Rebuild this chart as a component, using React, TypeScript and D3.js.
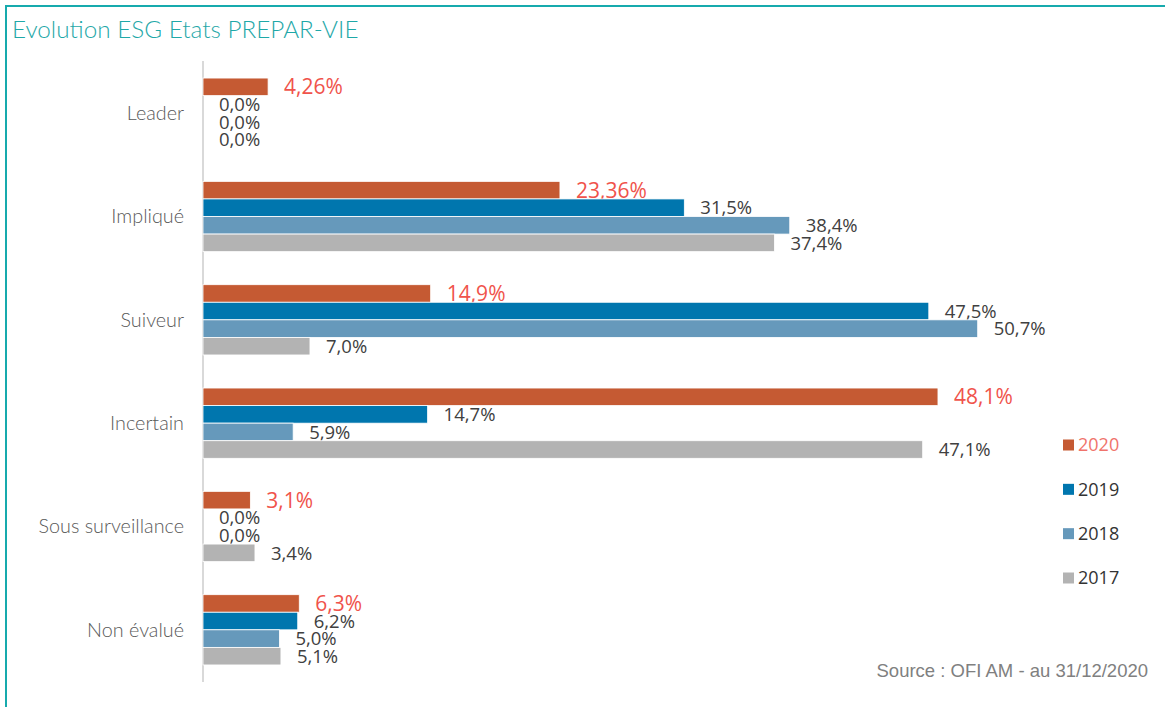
import React, { useRef, useEffect } from "react";
import * as d3 from "d3";

const categories = ["Leader", "Impliqué", "Suiveur", "Incertain", "Sous surveillance", "Non évalué"];
const years = ["2020", "2019", "2018", "2017"];
const values2020 = [4.26, 23.36, 14.9, 48.1, 3.1, 6.3];
const values2019 = [0, 31.5, 47.5, 14.7, 0, 6.2];
const values2018 = [0, 38.4, 50.7, 5.9, 0, 5.0];
const values2017 = [0, 37.4, 7.0, 47.1, 3.4, 5.1];
const seriesValues = [values2020, values2019, values2018, values2017];
const colors = ["#C55A33", "#0076AE", "#6699BB", "#B3B3B3"];

const W = 1165;
const H = 707;

const fmt = (v: number) => {
  const dec = Math.abs(v * 10 - Math.round(v * 10)) < 1e-9 ? 1 : 2;
  return v.toFixed(dec).replace(".", ",") + "%";
};

export default function App() {
  const svgRef = useRef<SVGSVGElement>(null);

  useEffect(() => {
    const svg = d3.select(svgRef.current);
    svg.selectAll("*").remove();

    const x = d3.scaleLinear().domain([0, 55]).range([203, 203 + 55 * 15.28]);
    const y = d3.scaleBand().domain(categories).range([61, 682]).paddingInner(0.32).paddingOuter(0.165);
    const ySub = d3.scaleBand().domain(years).range([0, y.bandwidth()]);

    // frame
    svg.append("line").attr("x1", 5).attr("x2", W).attr("y1", 6).attr("y2", 6)
      .attr("stroke", "#17AAAD").attr("stroke-width", 2);
    svg.append("line").attr("x1", 6).attr("x2", 6).attr("y1", 5).attr("y2", H)
      .attr("stroke", "#17AAAD").attr("stroke-width", 2);

    // title
    svg.append("text").attr("x", 12).attr("y", 38)
      .style("font-family", "Lato, 'Open Sans', sans-serif").style("font-size", "24.3px").style("font-weight", 300)
      .attr("fill", "#1FA8A8").text("Evolution ESG Etats PREPAR-VIE");

    // axis line
    svg.append("line").attr("x1", 203).attr("x2", 203).attr("y1", 61).attr("y2", 682)
      .attr("stroke", "#D9D9D9").attr("stroke-width", 2);

    // category labels
    svg.append("g").selectAll("text").data(categories).enter().append("text")
      .attr("x", 184)
      .attr("y", (d) => (y(d) as number) + y.bandwidth() / 2)
      .attr("dy", "0.35em")
      .attr("text-anchor", "end")
      .style("font-family", "Lato, 'Open Sans', sans-serif").style("font-size", "19.8px").style("font-weight", 300)
      .attr("fill", "#595959")
      .text((d) => d);

    // bars
    years.forEach((yr, si) => {
      const g = svg.append("g");
      const rows = categories.map((c, i) => ({ c, v: seriesValues[si][i] }));
      g.selectAll("rect").data(rows.filter((r) => r.v > 0)).enter().append("rect")
        .attr("x", x(0))
        .attr("y", (d) => (y(d.c) as number) + (ySub(yr) as number))
        .attr("width", (d) => x(d.v) - x(0))
        .attr("height", ySub.bandwidth())
        .attr("fill", colors[si])
        .attr("stroke", "#fff").attr("stroke-width", 0.8);
      g.selectAll("text").data(rows).enter().append("text")
        .attr("x", (d) => x(d.v) + 16)
        .attr("y", (d) => (y(d.c) as number) + (ySub(yr) as number) + ySub.bandwidth() / 2)
        .attr("dy", "0.36em")
        .style("font-family", "'Open Sans', sans-serif")
        .style("font-size", si === 0 ? "21px" : "18.5px")
        .attr("fill", si === 0 ? "#F0534B" : "#404040")
        .text((d) => fmt(d.v));
    });

    // legend
    const ly = d3.scaleLinear().domain([0, 3]).range([445, 578]);
    const lg = svg.append("g").selectAll("g").data(years).enter().append("g")
      .attr("transform", (d, i) => `translate(1063, ${ly(i)})`);
    lg.append("rect").attr("x", 0).attr("y", -5.5).attr("width", 11).attr("height", 11)
      .attr("fill", (d, i) => colors[i]);
    lg.append("text").attr("x", 15).attr("dy", "0.36em")
      .style("font-family", "'Open Sans', sans-serif").style("font-size", "18px")
      .attr("fill", (d, i) => (i === 0 ? "#F0736B" : "#333"))
      .text((d) => d);

    // source
    svg.append("text").attr("x", 1148).attr("y", 677).attr("text-anchor", "end")
      .style("font-family", "'Liberation Sans', Arial, sans-serif").style("font-size", "18.5px")
      .attr("fill", "#808080").text("Source : OFI AM - au 31/12/2020");
  }, []);

  return (
    <svg ref={svgRef} width={W} height={H}
      style={{ position: "absolute", left: 0, top: 0, background: "#fff" }} />
  );
}
